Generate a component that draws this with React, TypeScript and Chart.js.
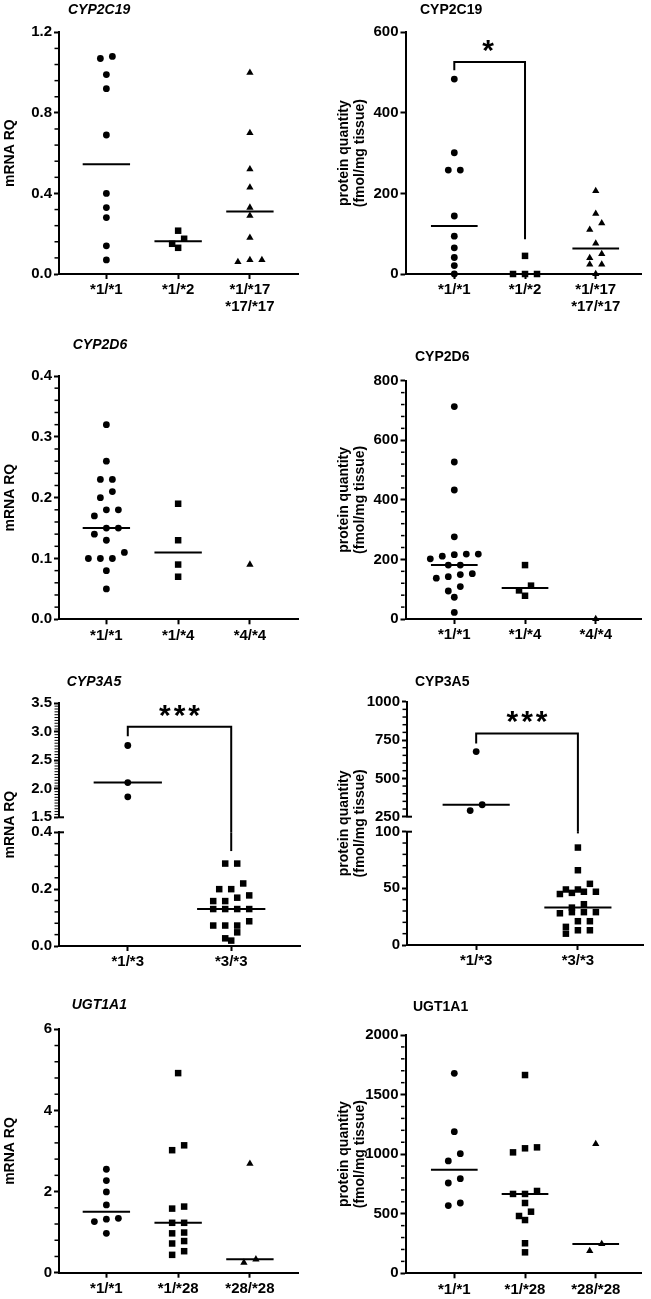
import React, { useEffect, useRef } from 'react';
import { Chart, registerables } from 'chart.js';

Chart.register(...registerables);

const FONT = "'Liberation Sans', Arial, Helvetica, sans-serif";
const INK = '#000';

// ---------- CYP2C19 ----------
const cyp2c19Groups = [['*1/*1'], ['*1/*2'], ['*1/*17', '*17/*17']];
const cyp2c19MrnaWt = [1.08, 1.07, 0.99, 0.92, 0.69, 0.4, 0.33, 0.28, 0.14, 0.07];
const cyp2c19MrnaStar2 = [0.215, 0.175, 0.15, 0.13];
const cyp2c19MrnaStar17 = [1.0, 0.7, 0.52, 0.43, 0.33, 0.29, 0.18, 0.07, 0.07, 0.06];
const cyp2c19MrnaTicks = [0, 0.4, 0.8, 1.2];
const cyp2c19ProteinWt = [484, 301, 258, 258, 144, 94, 65, 41, 21, 0];
const cyp2c19ProteinStar2 = [45, 0, 0, 0];
const cyp2c19ProteinStar17 = [206, 150, 126, 110, 76, 50, 40, 24, 24, 0];
const cyp2c19ProteinTicks = [0, 200, 400, 600];
const cyp2c19ProteinBracket = [506, 526, 86]; // left end, top, right end

// ---------- CYP2D6 ----------
const cyp2d6Groups = [['*1/*1'], ['*1/*4'], ['*4/*4']];
const cyp2d6MrnaWt = [0.32, 0.26, 0.23, 0.23, 0.21, 0.2, 0.18, 0.18, 0.17, 0.15, 0.15, 0.14, 0.13, 0.11, 0.1, 0.1, 0.1, 0.08, 0.05];
const cyp2d6MrnaHet = [0.19, 0.13, 0.09, 0.07];
const cyp2d6MrnaHom = [0.09];
const cyp2d6MrnaTicks = [0, 0.1, 0.2, 0.3, 0.4];
const cyp2d6ProteinWt = [713, 527, 433, 276, 218, 218, 216, 211, 202, 181, 181, 152, 149, 142, 137, 109, 94, 73, 22];
const cyp2d6ProteinHet = [181, 112, 96, 78];
const cyp2d6ProteinHom = [0];
const cyp2d6ProteinTicks = [0, 200, 400, 600, 800];

// ---------- CYP3A5 ----------
const cyp3a5Groups = [['*1/*3'], ['*3/*3']];
const cyp3a5MrnaHet = [2.76, 2.11, 1.86];
const cyp3a5MrnaHom = [0.29, 0.29, 0.22, 0.2, 0.2, 0.178, 0.17, 0.158, 0.158, 0.13, 0.13, 0.13, 0.13, 0.087, 0.072, 0.072, 0.072, 0.048, 0.027, 0.019];
const cyp3a5MrnaTicksHigh = [1.5, 2.0, 2.5, 3.0, 3.5];
const cyp3a5MrnaTicksLow = [0, 0.2, 0.4];
const cyp3a5MrnaBracket = [2.92, 3.09, 0.334];
const cyp3a5ProteinHet = [675, 328, 290];
const cyp3a5ProteinHom = [86, 66, 54, 49, 49, 47, 47, 46, 45, 36, 33, 29, 29, 29, 28, 21, 21, 16, 13, 13, 10];
const cyp3a5ProteinTicksHigh = [250, 500, 750, 1000];
const cyp3a5ProteinTicksLow = [0, 50, 100];
const cyp3a5ProteinBracket = [728, 793, 98.5];

// ---------- UGT1A1 ----------
const ugtGroups = [['*1/*1'], ['*1/*28'], ['*28/*28']];
const ugtMrnaWt = [2.55, 2.27, 1.99, 1.67, 1.34, 1.32, 1.26, 0.97];
const ugtMrnaHet = [4.92, 3.14, 3.02, 1.63, 1.58, 1.23, 1.23, 0.99, 0.97, 0.78, 0.72, 0.53, 0.44];
const ugtMrnaHom = [2.69, 0.33, 0.25];
const ugtMrnaTicks = [0, 2, 4, 6];
const ugtProteinWt = [1678, 1189, 1004, 943, 794, 758, 590, 568];
const ugtProteinHet = [1664, 1057, 1049, 1015, 691, 666, 666, 590, 517, 481, 447, 252, 176];
const ugtProteinHom = [1085, 246, 187];
const ugtProteinTicks = [0, 500, 1000, 1500, 2000];

// ---------- layout ----------
type Seg = { min: number; max: number; ticks: number[]; dec: number; minor: number; top: number; bottom: number };
type Bracket = { from: number; to: number; levels: number[]; label: string };
type Panel = {
  box: [number, number, number, number];
  left: number; right: number; xMin: number; xMax: number;
  groups: string[][]; values: number[][];
  title: string; italic: boolean; titleAt: [number, number];
  yTitle: string[]; yTitleX: number[];
  segs: Seg[]; bracket?: Bracket;
};

const L3 = { left: 59, right: 298, xMin: -0.66, xMax: 2.67 };
const L2 = { left: 59, right: 300, xMin: -0.665, xMax: 1.665 };
const R3 = { left: 405.5, right: 641, xMin: -0.69, xMax: 2.64 };
const R2 = { left: 407, right: 643, xMin: -0.68, xMax: 1.64 };
const MRNA = { yTitle: ['mRNA RQ'], yTitleX: [10.5] };
const PROT = { yTitle: ['protein quantity', '(fmol/mg tissue)'], yTitleX: [344, 360] };

const panels: Panel[] = [
  {
    box: [0, 0, 325, 330], ...L3, groups: cyp2c19Groups,
    values: [cyp2c19MrnaWt, cyp2c19MrnaStar2, cyp2c19MrnaStar17],
    title: 'CYP2C19', italic: true, titleAt: [68, 10.5], ...MRNA,
    segs: [{ min: 0, max: 1.2, ticks: cyp2c19MrnaTicks, dec: 1, minor: 0.08, top: 32.3, bottom: 274 }],
  },
  {
    box: [325, 0, 326, 330], ...R3, groups: cyp2c19Groups,
    values: [cyp2c19ProteinWt, cyp2c19ProteinStar2, cyp2c19ProteinStar17],
    title: 'CYP2C19', italic: false, titleAt: [420, 10.5], ...PROT,
    segs: [{ min: 0, max: 600, ticks: cyp2c19ProteinTicks, dec: 0, minor: 0, top: 32.3, bottom: 274 }],
    bracket: { from: 0, to: 1, levels: cyp2c19ProteinBracket, label: '*' },
  },
  {
    box: [0, 322, 325, 335], ...L3, groups: cyp2d6Groups,
    values: [cyp2d6MrnaWt, cyp2d6MrnaHet, cyp2d6MrnaHom],
    title: 'CYP2D6', italic: true, titleAt: [72.7, 345], ...MRNA,
    segs: [{ min: 0, max: 0.4, ticks: cyp2d6MrnaTicks, dec: 1, minor: 0.02, top: 376, bottom: 619.3 }],
  },
  {
    box: [325, 322, 326, 335], ...R3, groups: cyp2d6Groups,
    values: [cyp2d6ProteinWt, cyp2d6ProteinHet, cyp2d6ProteinHom],
    title: 'CYP2D6', italic: false, titleAt: [415, 356.7], ...PROT,
    segs: [{ min: 0, max: 800, ticks: cyp2d6ProteinTicks, dec: 0, minor: 40, top: 380.7, bottom: 619 }],
  },
  {
    box: [0, 648, 325, 335], ...L2, groups: cyp3a5Groups,
    values: [cyp3a5MrnaHet, cyp3a5MrnaHom],
    title: 'CYP3A5', italic: true, titleAt: [66.7, 681.7], ...MRNA,
    segs: [
      { min: 1.5, max: 3.5, ticks: cyp3a5MrnaTicksHigh, dec: 1, minor: 0.05, top: 703.3, bottom: 817.3 },
      { min: 0, max: 0.4, ticks: cyp3a5MrnaTicksLow, dec: 1, minor: 0.04, top: 832.3, bottom: 946 },
    ],
    bracket: { from: 0, to: 1, levels: cyp3a5MrnaBracket, label: '***' },
  },
  {
    box: [325, 648, 326, 335], ...R2, groups: cyp3a5Groups,
    values: [cyp3a5ProteinHet, cyp3a5ProteinHom],
    title: 'CYP3A5', italic: false, titleAt: [415, 681.7], ...PROT,
    segs: [
      { min: 250, max: 1000, ticks: cyp3a5ProteinTicksHigh, dec: 0, minor: 50, top: 701.7, bottom: 816.7 },
      { min: 0, max: 100, ticks: cyp3a5ProteinTicksLow, dec: 0, minor: 10, top: 831.7, bottom: 945 },
    ],
    bracket: { from: 0, to: 1, levels: cyp3a5ProteinBracket, label: '***' },
  },
  {
    box: [0, 975, 325, 324], ...L3, groups: ugtGroups,
    values: [ugtMrnaWt, ugtMrnaHet, ugtMrnaHom],
    title: 'UGT1A1', italic: true, titleAt: [71.7, 1005], ...MRNA,
    segs: [{ min: 0, max: 6, ticks: ugtMrnaTicks, dec: 0, minor: 0.4, top: 1029.3, bottom: 1272.7 }],
  },
  {
    box: [325, 975, 326, 324], ...R3, groups: ugtGroups,
    values: [ugtProteinWt, ugtProteinHet, ugtProteinHom],
    title: 'UGT1A1', italic: false, titleAt: [413, 1006.7], ...PROT,
    segs: [{ min: 0, max: 2000, ticks: ugtProteinTicks, dec: 0, minor: 100, top: 1035, bottom: 1273.3 }],
  },
];

function median(a: number[]) {
  const s = [...a].sort((x, y) => x - y);
  const n = s.length;
  return n % 2 ? s[(n - 1) / 2] : (s[n / 2 - 1] + s[n / 2]) / 2;
}

// simple beeswarm: points close in value share a row and are spread side by side
function swarm(values: number[], pxPerY: number, tolPx: number, step: number) {
  const idx = values.map((_, i) => i).sort((a, b) => values[b] - values[a]);
  const rows: number[][] = [];
  let cur: number[] = [];
  let start = 0;
  for (const i of idx) {
    if (cur.length && (start - values[i]) * pxPerY < tolPx) cur.push(i);
    else {
      if (cur.length) rows.push(cur);
      cur = [i];
      start = values[i];
    }
  }
  if (cur.length) rows.push(cur);
  const off = new Array(values.length).fill(0);
  for (const r of rows) {
    const asc = [...r].sort((a, b) => values[a] - values[b] || a - b);
    asc.forEach((i, j) => { off[i] = (j - (asc.length - 1) / 2) * step; });
  }
  return off;
}

const YW = 45;
const STYLES = ['circle', 'rect', 'triangle'];
const RADII = [3.4, 4.6, 4.2];

function makeChart(canvas: HTMLCanvasElement, p: Panel, k: number) {
  const seg = p.segs[k];
  const first = k === 0;
  const last = k === p.segs.length - 1;
  const [bx, by, bw, bh] = p.box;
  const xh = last ? Math.min(45, by + bh - seg.bottom) : 0;
  const pxPerCat = (p.right - p.left) / (p.xMax - p.xMin);
  const pxPerY = (seg.bottom - seg.top) / (seg.max - seg.min);
  const inSeg = (v: number, s: Seg) => v >= s.min - 1e-9 && v <= s.max + 1e-9;
  const segOf = (v: number) => p.segs.findIndex((s) => inSeg(v, s));

  const datasets: any[] = [];
  p.values.forEach((vals, i) => {
    const vs = vals.filter((v) => inSeg(v, seg));
    if (!vs.length) return;
    const offs = swarm(vs, pxPerY, 7.5, 12 / pxPerCat);
    datasets.push({
      type: 'scatter',
      data: vs.map((v, j) => ({ x: i + offs[j], y: v })),
      pointStyle: STYLES[i],
      pointRadius: RADII[i],
      pointBackgroundColor: INK,
      pointBorderColor: INK,
      pointBorderWidth: 0,
      clip: false,
    });
  });
  p.values.forEach((vals, i) => {
    if (vals.length < 2) return;
    const m = median(vals);
    if (!inSeg(m, seg)) return;
    datasets.push({
      type: 'scatter',
      showLine: true,
      data: [{ x: i - 0.33, y: m }, { x: i + 0.33, y: m }],
      borderColor: INK,
      borderWidth: 2,
      pointRadius: 0,
      clip: false,
    });
  });

  const deco = {
    id: 'deco' + k,
    afterDraw(chart: any) {
      const ctx = chart.ctx as CanvasRenderingContext2D;
      const a = chart.chartArea;
      const ys = chart.scales.y;
      const xs = chart.scales.x;
      ctx.save();
      ctx.strokeStyle = INK;
      ctx.fillStyle = INK;
      ctx.lineCap = 'butt';
      // minor ticks
      if (seg.minor) {
        const n = Math.round((seg.max - seg.min) / seg.minor);
        ctx.lineWidth = n > 30 ? 1 : 1.5;
        for (let j = 0; j <= n; j++) {
          const v = seg.min + j * seg.minor;
          if (seg.ticks.some((t) => Math.abs(t - v) < seg.minor * 1e-3)) continue;
          const y = ys.getPixelForValue(v);
          ctx.beginPath();
          ctx.moveTo(a.left - 1, y);
          ctx.lineTo(a.left - 4.5, y);
          ctx.stroke();
        }
      }
      // axis break marks
      ctx.lineWidth = 2;
      if (!last) {
        ctx.beginPath();
        ctx.moveTo(a.left - 1, a.bottom);
        ctx.lineTo(a.left + 5, a.bottom);
        ctx.stroke();
      }
      if (!first) {
        ctx.beginPath();
        ctx.moveTo(a.left - 1, a.top);
        ctx.lineTo(a.left + 5, a.top);
        ctx.stroke();
      }
      // bracket
      const br = p.bracket;
      if (br) {
        const [lv, tv, rv] = br.levels;
        const kt = segOf(tv);
        const x0 = xs.getPixelForValue(br.from);
        const x1 = xs.getPixelForValue(br.to);
        const gapBottom = k < p.segs.length - 1 ? a.bottom + (p.segs[k + 1].top - seg.bottom) : a.bottom;
        ctx.lineWidth = 2;
        ctx.lineJoin = 'miter';
        const legEnd = (v: number) => (segOf(v) === k ? ys.getPixelForValue(v) : gapBottom);
        if (k === kt) {
          const yt = ys.getPixelForValue(tv);
          ctx.beginPath();
          ctx.moveTo(x0, legEnd(lv));
          ctx.lineTo(x0, yt);
          ctx.lineTo(x1, yt);
          ctx.lineTo(x1, legEnd(rv));
          ctx.stroke();
          ctx.font = `bold 30px ${FONT}`;
          (ctx as any).letterSpacing = '3px';
          ctx.textAlign = 'center';
          ctx.textBaseline = 'alphabetic';
          const m = ctx.measureText(br.label);
          const cy = yt - 16;
          const base = cy + (m.actualBoundingBoxAscent - m.actualBoundingBoxDescent) / 2;
          ctx.fillText(br.label, (x0 + x1) / 2 + (br.label.length > 1 ? 1.5 : 0), base);
          (ctx as any).letterSpacing = '0px';
        } else {
          [[x0, lv], [x1, rv]].forEach(([x, v]) => {
            if (segOf(v) === k) {
              ctx.beginPath();
              ctx.moveTo(x, a.top);
              ctx.lineTo(x, ys.getPixelForValue(v));
              ctx.stroke();
            }
          });
        }
      }
      // panel title and y-axis title
      if (first) {
        ctx.font = `${p.italic ? 'italic ' : ''}bold 14px ${FONT}`;
        ctx.textAlign = 'left';
        ctx.textBaseline = 'middle';
        ctx.fillText(p.title, p.titleAt[0] - bx, p.titleAt[1] - by);
        const cy = (p.segs[0].top + p.segs[p.segs.length - 1].bottom) / 2 - by;
        ctx.font = `bold 14px ${FONT}`;
        ctx.textAlign = 'center';
        p.yTitle.forEach((line, i) => {
          ctx.save();
          ctx.translate(p.yTitleX[i] - bx, cy);
          ctx.rotate(-Math.PI / 2);
          ctx.fillText(line, 0, 0);
          ctx.restore();
        });
      }
      ctx.restore();
    },
  };

  const tickFont = { family: FONT, size: 15, weight: 'bold' as const };
  return new Chart(canvas, {
    type: 'scatter',
    data: { datasets },
    options: {
      responsive: false,
      animation: false,
      devicePixelRatio: 1,
      events: [],
      layout: {
        padding: {
          left: p.left - bx - YW,
          right: bx + bw - p.right,
          top: seg.top - by,
          bottom: by + bh - seg.bottom - xh,
        },
      },
      plugins: { legend: { display: false }, title: { display: false }, tooltip: { enabled: false } },
      scales: {
        x: {
          type: 'linear',
          display: last,
          min: p.xMin,
          max: p.xMax,
          afterBuildTicks: (s: any) => { s.ticks = p.groups.map((_, i) => ({ value: i })); },
          afterFit: (s: any) => { s.height = xh; },
          ticks: {
            callback: (v: any) => p.groups[Math.round(Number(v))] ?? '',
            color: INK,
            font: { ...tickFont, lineHeight: 1.1 },
            padding: 3,
            maxRotation: 0,
            autoSkip: false,
          },
          grid: { display: true, drawOnChartArea: false, drawTicks: true, tickLength: 5, tickWidth: 2, tickColor: INK },
          border: { display: true, color: INK, width: 2 },
        },
        y: {
          type: 'linear',
          min: seg.min,
          max: seg.max,
          afterBuildTicks: (s: any) => { s.ticks = seg.ticks.map((v) => ({ value: v })); },
          afterFit: (s: any) => { s.width = YW; },
          ticks: {
            callback: (v: any) => Number(v).toFixed(seg.dec),
            color: INK,
            font: tickFont,
            padding: 2,
            autoSkip: false,
          },
          grid: { display: true, drawOnChartArea: false, drawTicks: true, tickLength: 5, tickWidth: 2, tickColor: INK },
          border: { display: true, color: INK, width: 2 },
        },
      },
    },
    plugins: [deco],
  } as any);
}

function PanelView({ p }: { p: Panel }) {
  const refs = useRef<(HTMLCanvasElement | null)[]>([]);
  useEffect(() => {
    const charts = p.segs.map((_, k) => makeChart(refs.current[k] as HTMLCanvasElement, p, k));
    return () => charts.forEach((c) => c.destroy());
  }, [p]);
  const [bx, by, bw, bh] = p.box;
  return (
    <>
      {p.segs.map((_, k) => (
        <canvas
          key={k}
          ref={(el) => { refs.current[k] = el; }}
          width={bw}
          height={bh}
          style={{ position: 'absolute', left: bx, top: by, width: bw, height: bh }}
        />
      ))}
    </>
  );
}

export default function App() {
  return (
    <div style={{ position: 'absolute', left: 0, top: 0, width: 651, height: 1299, background: '#fff' }}>
      {panels.map((p, i) => (
        <PanelView key={i} p={p} />
      ))}
    </div>
  );
}
